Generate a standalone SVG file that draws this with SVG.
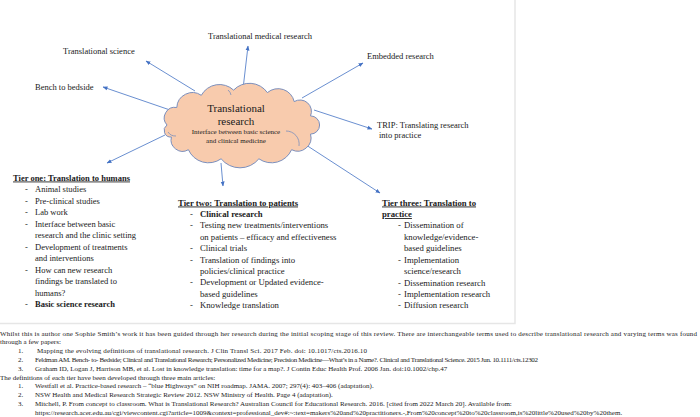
<svg xmlns="http://www.w3.org/2000/svg" width="700" height="417" viewBox="0 0 700 417">
<defs>
<marker id="ah" viewBox="0 0 10 10" refX="9" refY="5" markerWidth="5" markerHeight="5" orient="auto" markerUnits="userSpaceOnUse">
<path d="M0,1 L10,5 L0,9 Z" fill="#4472C4"/>
</marker>
<style>
text{font-family:"Liberation Serif","Times New Roman",serif;fill:#1a1a1a}
.lbl{font-size:8.5px}
.t2{font-size:8.7px}
.b{font-weight:bold}
.u{text-decoration:underline}
.ft{font-size:7px}
.conn line{stroke:#4472C4;stroke-width:0.8;marker-end:url(#ah)}
.frame{stroke:#e6e6e6;stroke-width:1.5;fill:none}
.inner{fill:none;stroke:#7b8fbd;stroke-width:0.8}
</style>
</defs>
<rect width="700" height="417" fill="#ffffff"/>
<path class="frame" d="M515,0 V323.5 H0"/>

<g id="connectors" class="conn">
<line x1="195" y1="91" x2="146" y2="61"/>
<line x1="243" y1="89" x2="248" y2="46"/>
<line x1="170" y1="110" x2="103" y2="87"/>
<line x1="302" y1="98" x2="363" y2="63"/>
<line x1="314" y1="110" x2="372" y2="129"/>
<line x1="303" y1="143" x2="380" y2="193"/>
<line x1="221" y1="163" x2="223" y2="186"/>
<line x1="165" y1="135" x2="107" y2="163"/>
</g>

<g id="cloud">
<path d="M167,125 A10.6,10.6 0 0 1 176.8,107.5 A15.7,15.7 0 0 1 201.3,95.3 A20.7,20.7 0 0 1 233.6,90.1 A21.9,21.9 0 0 1 267.4,92.6 A16.5,16.5 0 0 1 294.2,101.6 A11.4,11.4 0 0 1 310.5,115.9 A9.1,9.1 0 0 1 310.5,134.1 A13.4,13.4 0 0 1 291.6,149.7 A21.9,21.9 0 0 1 258.9,158.8 A24.3,24.3 0 0 1 221.1,158.8 A21.9,21.9 0 0 1 188.4,149.7 A11.5,11.5 0 0 1 171.4,137 A6.6,6.6 0 0 1 167,125 Z" fill="#F8CBAD" stroke="#7b8fbd" stroke-width="1"/>
<path class="inner" d="M286,131 A13,13 0 0 1 299,146"/>
<path class="inner" d="M168,132 A9,9 0 0 0 176,136"/>
<path class="inner" d="M228,90 A8,8 0 0 1 231,95"/>
<text x="236" y="112" font-size="11" text-anchor="middle">Translational</text>
<text x="236" y="124.5" font-size="11" text-anchor="middle">research</text>
<text x="236" y="134" font-size="7" text-anchor="middle">Interface between basic science</text>
<text x="236" y="143" font-size="7" text-anchor="middle">and clinical medicine</text>
</g>

<g id="n-translational-science"><text class="lbl" x="63" y="54">Translational science</text></g>
<g id="n-translational-medical"><text class="lbl" x="208" y="39">Translational medical research</text></g>
<g id="n-bench"><text class="lbl" x="35" y="90">Bench to bedside</text></g>
<g id="n-embedded"><text class="lbl" x="367" y="59">Embedded research</text></g>
<g id="n-trip"><text class="lbl" x="377" y="128">TRIP: Translating research</text><text class="lbl" x="379" y="138">into practice</text></g>

<g id="tier-one" class="lbl">
<text class="b u" x="13" y="180.5">Tier one: Translation to humans</text>
<text x="25" y="192">-</text><text x="35" y="192">Animal studies</text>
<text x="25" y="203.5">-</text><text x="35" y="203.5">Pre-clinical studies</text>
<text x="25" y="215">-</text><text x="35" y="215">Lab work</text>
<text x="25" y="226.5">-</text><text x="35" y="226.5">Interface between basic</text>
<text x="35" y="238">research and the clinic setting</text>
<text x="25" y="249.5">-</text><text x="35" y="249.5">Development of treatments</text>
<text x="35" y="261">and interventions</text>
<text x="25" y="272.5">-</text><text x="35" y="272.5">How can new research</text>
<text x="35" y="284">findings be translated to</text>
<text x="35" y="295.5">humans?</text>
<text x="25" y="307">-</text><text class="b" x="35" y="307">Basic science research</text>
</g>

<g id="tier-two" class="t2">
<text class="b u" x="178" y="205.5">Tier two: Translation to patients</text>
<text x="190" y="216.5">-</text><text class="b" x="200" y="216.5">Clinical research</text>
<text x="190" y="228">-</text><text x="200" y="228">Testing new treatments/interventions</text>
<text x="200" y="239.5">on patients – efficacy and effectiveness</text>
<text x="190" y="251">-</text><text x="200" y="251">Clinical trials</text>
<text x="190" y="262.5">-</text><text x="200" y="262.5">Translation of findings into</text>
<text x="200" y="274">policies/clinical practice</text>
<text x="190" y="285">-</text><text x="200" y="285">Development or Updated evidence-</text>
<text x="200" y="296.5">based guidelines</text>
<text x="190" y="308">-</text><text x="200" y="308">Knowledge translation</text>
</g>

<g id="tier-three" class="t2">
<text class="b u" x="382" y="205.5">Tier three: Translation to</text>
<text class="b u" x="382" y="217">practice</text>
<text x="398" y="228">-</text><text x="404" y="228">Dissemination of</text>
<text x="404" y="239.5">knowledge/evidence-</text>
<text x="404" y="251">based guidelines</text>
<text x="398" y="262.5">-</text><text x="404" y="262.5">Implementation</text>
<text x="404" y="274">science/research</text>
<text x="398" y="285.5">-</text><text x="404" y="285.5">Dissemination research</text>
<text x="398" y="296.5">-</text><text x="404" y="296.5">Implementation research</text>
<text x="398" y="308">-</text><text x="404" y="308">Diffusion research</text>
</g>

<g id="footnote" class="ft">
<text x="0" y="335.5" textLength="697">Whilst this is author one Sophie Smith’s work it has been guided through her research during the initial scoping stage of this review. There are interchangeable terms used to describe translational research and varying terms was found</text>
<text x="0" y="344.3">through a few papers:</text>
<text x="18" y="353.1">1.</text><text x="37" y="353.1" textLength="330">Mapping the evolving definitions of translational research. J Clin Transl Sci. 2017 Feb. doi: 10.1017/cts.2016.10</text>
<text x="18" y="361.9">2.</text><text x="35" y="361.9" textLength="503">Feldman AM. Bench- to- Bedside; Clinical and Translational Research; Personalized Medicine; Precision Medicine—What’s in a Name?. Clinical and Translational Science. 2015 Jun. 10.1111/cts.12302</text>
<text x="18" y="370.7">3.</text><text x="35" y="370.7">Graham ID, Logan J, Harrison MB, et al. Lost in knowledge translation: time for a map?. J Contin Educ Health Prof. 2006 Jan. doi:10.1002/chp.47</text>
<text x="0" y="379.5">The definitions of each tier have been developed through three main articles:</text>
<text x="18" y="388.3">1.</text><text x="35" y="388.3">Westfall et al. Practice-based research – “blue Highways” on NIH roadmap. JAMA. 2007; 297(4): 403–406 (adaptation).</text>
<text x="18" y="397.1">2.</text><text x="35" y="397.1">NSW Health and Medical Research Strategic Review 2012. NSW Ministry of Health. Page 4 (adaptation).</text>
<text x="18" y="405.9">3.</text><text x="35" y="405.9">Mitchell, P. From concept to classroom. What is Translational Research? Australian Council for Educational Research. 2016. [cited from 2022 March 20]. Available from:</text>
<text x="35" y="414.7">https://research.acer.edu.au/cgi/viewcontent.cgi?article=1009&amp;context=professional_dev#:~:text=makers%20and%20practitioners.-,From%20concept%20to%20classroom,is%20little%20used%20by%20them.</text>
</g>
</svg>
